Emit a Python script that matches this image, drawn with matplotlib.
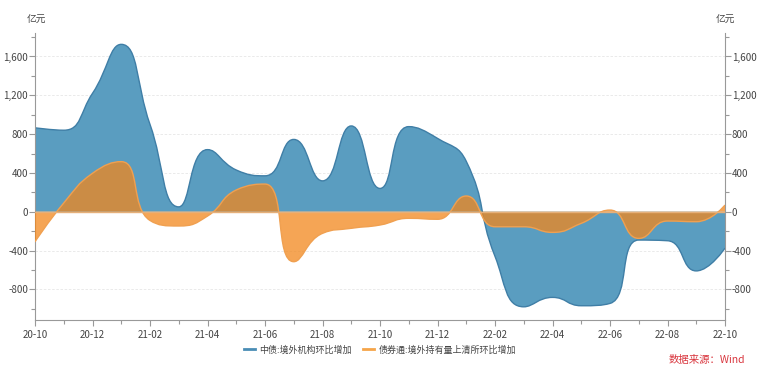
import numpy as np
import matplotlib
matplotlib.use("Agg")
from matplotlib import pyplot as plt
from matplotlib.path import Path
from matplotlib.patches import PathPatch
from matplotlib.lines import Line2D
from matplotlib.ticker import MultipleLocator, FuncFormatter

plt.rcParams['font.family'] = ['Noto Sans CJK SC', 'DejaVu Sans']

months = ["20-10", "20-11", "20-12", "21-01", "21-02", "21-03", "21-04", "21-05",
          "21-06", "21-07", "21-08", "21-09", "21-10", "21-11", "21-12", "22-01",
          "22-02", "22-03", "22-04", "22-05", "22-06", "22-07", "22-08", "22-09", "22-10"]
# 中债:境外机构环比增加 (亿元)
cb_inst = [865, 840, 1220, 1725, 900, 50, 640, 430, 370, 745, 318, 884, 240, 877, 756,
           520, -460, -980, -883, -969, -945, -292, -299, -610, -375]
# 债券通:境外持有量上清所环比增加 (亿元)
bc_hold = [-310, 90, 396, 516, -90, -147, -45, 224, 285, -515, -223, -171, -137, -68, -78,
           162, -155, -155, -213, -120, 17, -275, -96, -103, 69]
label_cb = "中债:境外机构环比增加"
label_bc = "债券通:境外持有量上清所环比增加"
unit = "亿元"
source = "数据来源：Wind"

BLUE = "#5a9dc0"
BLUE_EDGE = "#3f7ea6"
ORANGE = "#f2871c"
ORANGE_EDGE = "#f0a050"

# pixel scale of the reference, used for the smoothing lengths
SX = 28.75
SY = 38.8/400


def smooth_path(xs, ys, smooth=0.5):
    # bezier smoothing the way echarts does it (no overshoot)
    verts = [(xs[0], ys[0])]
    codes = [Path.MOVETO]
    cp0x, cp0y = xs[0], ys[0]
    n = len(xs)
    for i in range(1, n):
        x, y = xs[i], ys[i]
        px, py = xs[i-1], ys[i-1]
        if i == n-1:
            cp1x, cp1y = x, y
            ncx, ncy = x, y
        else:
            nx, ny = xs[i+1], ys[i+1]
            vx, vy = nx - px, ny - py
            l0 = np.hypot((x-px)*SX, (y-py)*SY)
            l1 = np.hypot((nx-x)*SX, (ny-y)*SY)
            r = l1/(l0+l1)
            ncx = x + vx*smooth*r
            ncy = y + vy*smooth*r
            ncx = max(min(ncx, max(nx, x)), min(nx, x))
            ncy = max(min(ncy, max(ny, y)), min(ny, y))
            vx, vy = ncx - x, ncy - y
            cp1x = x - vx*l0/l1
            cp1y = y - vy*l0/l1
            cp1x = max(min(cp1x, max(px, x)), min(px, x))
            cp1y = max(min(cp1y, max(py, y)), min(py, y))
            vx, vy = x - cp1x, y - cp1y
            ncx = x + vx*l1/l0
            ncy = y + vy*l1/l0
        verts += [(cp0x, cp0y), (cp1x, cp1y), (x, y)]
        codes += [Path.CURVE4]*3
        cp0x, cp0y = ncx, ncy
    return verts, codes


def area(ax, xs, ys, face, edge, alpha, z):
    verts, codes = smooth_path(xs, ys)
    fv = verts + [(xs[-1], 0), (xs[0], 0), (xs[0], 0)]
    fc = codes + [Path.LINETO, Path.LINETO, Path.CLOSEPOLY]
    ax.add_patch(PathPatch(Path(fv, fc), facecolor=face, edgecolor='none', alpha=alpha, zorder=z))
    ax.add_patch(PathPatch(Path(verts, codes), facecolor='none', edgecolor=edge, lw=1, zorder=z+0.1))


x = np.arange(len(months))

fig = plt.figure(figsize=(7.6, 3.72), dpi=100)
ax = fig.add_axes([35/760, 1-320/372, 690/760, 287/372])

area(ax, x, cb_inst, BLUE, BLUE_EDGE, 1.0, 2)
area(ax, x, bc_hold, ORANGE, ORANGE_EDGE, 0.75, 3)
ax.axhline(0, color="#e6b07a", lw=1, zorder=4)

ax.set_xlim(0, len(months)-1)
ax.set_ylim(-1116, 1842)

ax.set_xticks(x[::2])
ax.set_xticklabels(months[::2])
ax.set_xticks(x, minor=True)
ax.yaxis.set_major_locator(MultipleLocator(400))
ax.yaxis.set_minor_locator(MultipleLocator(200))
ax.yaxis.set_major_formatter(FuncFormatter(lambda v, p: f"{int(v):,}"))
ax.tick_params(axis='both', which='both', colors="#999999", labelcolor="#444444", labelsize=7, direction='out')
ax.tick_params(axis='both', which='major', length=4, width=0.8)
ax.tick_params(axis='both', which='minor', length=3, width=0.8)
ax.tick_params(axis='y', which='both', right=True, labelright=True)
ax.tick_params(axis='y', pad=1)
ax.grid(axis='y', which='major', color="#e6e6e6", lw=0.6, ls=(0, (3, 2)), zorder=0)
ax.set_axisbelow(True)

for s in ['top']:
    ax.spines[s].set_visible(False)
for s in ['left', 'right', 'bottom']:
    ax.spines[s].set_color("#999999")
    ax.spines[s].set_linewidth(0.8)

fig.text(36/760, 1-20/372, unit, ha='center', va='center', fontsize=7, color="#444444")
fig.text(725/760, 1-20/372, unit, ha='center', va='center', fontsize=7, color="#444444")

handles = [Line2D([], [], color="#4a8db5", lw=2), Line2D([], [], color="#f5a54a", lw=2)]
fig.legend(handles, [label_cb, label_bc], loc='center', bbox_to_anchor=(0.5, 1-350/372),
           ncol=2, frameon=False, fontsize=6.5, handlelength=1.2, handletextpad=0.5,
           columnspacing=1.2, labelcolor="#444444")
fig.text(745/760, 1-360/372, source, ha='right', va='center', fontsize=7.5, color="#d9363e")

fig.savefig("out.png", dpi=100, facecolor='white')
